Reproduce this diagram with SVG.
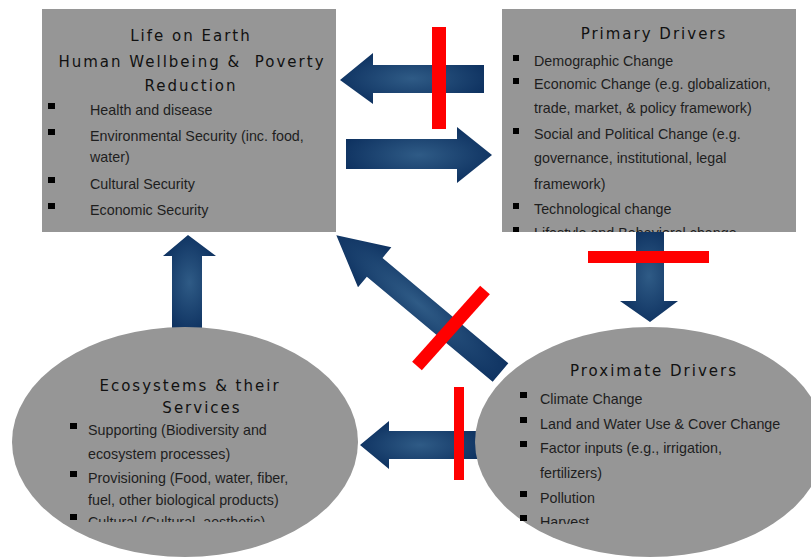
<svg xmlns="http://www.w3.org/2000/svg" width="811" height="557" viewBox="0 0 811 557">
<style>
.node{fill:#969696}
.ttl{font-family:"DejaVu Sans",Verdana,sans-serif;font-size:15px;letter-spacing:2px;fill:#111;text-anchor:middle;white-space:pre}
.txt{font-family:"Liberation Sans",Arial,sans-serif;font-size:14.3px;fill:#1e1e1e}
.bul{fill:#000}
.arrow{fill:url(#ag)}
.red{fill:#ff0000}
</style>
<defs>
<radialGradient id="ag" cx="0.5" cy="0.5" r="0.6">
<stop offset="0" stop-color="#2f5b86"/>
<stop offset="1" stop-color="#0b2e5d"/>
</radialGradient>
<clipPath id="c2"><rect x="502" y="9" width="294" height="223"/></clipPath>
<clipPath id="c3"><rect x="0" y="300" width="400" height="222"/></clipPath>
<clipPath id="c4"><rect x="470" y="300" width="341" height="224"/></clipPath>
</defs>
<g id="connectors">
<polygon class="arrow" points="340,80 373,53 373,65 484,65 484,93 373,93 373,104"/>
<polygon class="arrow" points="346,139 457,139 457,127 492,155 457,183 457,169 346,169"/>
<polygon class="arrow" points="636,230 664,230 664,301 678,301 650,322 620,301 636,301"/>
<polygon class="arrow" points="188,235 216,256 202,256 202,330 172,330 172,256 163,256"/>
<polygon class="arrow" points="360,445 389,421 389,431 480,431 480,459 389,459 389,469"/>
<polygon class="arrow" transform="translate(500.5,372.5) rotate(219.9)" points="0,-12.2 164,-12.2 164,-26 214,0 164,26 164,12.2 0,12.2"/>
</g>
<g id="life-on-earth">
<rect class="node" x="42" y="9" width="294" height="223"/>
<text class="ttl" x="191" y="41">Life on Earth</text>
<text class="ttl" x="192" y="67" xml:space="preserve">Human Wellbeing &amp;  Poverty</text>
<text class="ttl" x="191" y="91">Reduction</text>
<rect class="bul" x="48" y="103" width="7" height="6"/>
<rect class="bul" x="48" y="129" width="7" height="6"/>
<rect class="bul" x="48" y="177" width="7" height="6"/>
<rect class="bul" x="48" y="203" width="7" height="6"/>
<text class="txt" x="90" y="115">Health and disease</text>
<text class="txt" x="90" y="141">Environmental Security (inc. food,</text>
<text class="txt" x="90" y="162">water)</text>
<text class="txt" x="90" y="189">Cultural Security</text>
<text class="txt" x="90" y="215">Economic Security</text>
</g>
<g id="primary-drivers">
<rect class="node" x="502" y="9" width="294" height="223"/>
<g clip-path="url(#c2)">
<text class="ttl" x="654" y="39">Primary Drivers</text>
<rect class="bul" x="513" y="55" width="6" height="6"/>
<rect class="bul" x="513" y="78" width="6" height="6"/>
<rect class="bul" x="513" y="128" width="6" height="6"/>
<rect class="bul" x="513" y="203" width="6" height="6"/>
<rect class="bul" x="513" y="227" width="6" height="6"/>
<text class="txt" x="534" y="66">Demographic Change</text>
<text class="txt" x="534" y="89">Economic Change (e.g. globalization,</text>
<text class="txt" x="534" y="113">trade, market, &amp; policy framework)</text>
<text class="txt" x="534" y="139">Social and Political Change (e.g.</text>
<text class="txt" x="534" y="163">governance, institutional, legal</text>
<text class="txt" x="534" y="189">framework)</text>
<text class="txt" x="534" y="214">Technological change</text>
<text class="txt" x="534" y="238">Lifestyle and Behavioral change</text>
</g>
</g>
<g id="ecosystems">
<ellipse class="node" cx="185" cy="442" rx="173" ry="115"/>
<g clip-path="url(#c3)">
<text class="ttl" x="190" y="391">Ecosystems &amp; their</text>
<text class="ttl" x="202" y="413">Services</text>
<rect class="bul" x="70" y="423" width="7" height="6"/>
<rect class="bul" x="70" y="471" width="7" height="6"/>
<rect class="bul" x="70" y="514" width="7" height="6"/>
<text class="txt" x="88" y="435">Supporting (Biodiversity and</text>
<text class="txt" x="88" y="459">ecosystem processes)</text>
<text class="txt" x="88" y="483">Provisioning (Food, water, fiber,</text>
<text class="txt" x="88" y="505">fuel, other biological products)</text>
<text class="txt" x="88" y="527">Cultural (Cultural, aesthetic)</text>
</g>
</g>
<g id="proximate-drivers">
<ellipse class="node" cx="650" cy="442" rx="175" ry="115"/>
<g clip-path="url(#c4)">
<text class="ttl" x="654" y="376">Proximate Drivers</text>
<rect class="bul" x="520" y="392" width="7" height="6"/>
<rect class="bul" x="520" y="417" width="7" height="6"/>
<rect class="bul" x="520" y="441" width="7" height="6"/>
<rect class="bul" x="520" y="491" width="7" height="6"/>
<rect class="bul" x="520" y="515" width="7" height="6"/>
<text class="txt" x="540" y="404">Climate Change</text>
<text class="txt" x="540" y="429">Land and Water Use &amp; Cover Change</text>
<text class="txt" x="540" y="453">Factor inputs (e.g., irrigation,</text>
<text class="txt" x="540" y="478">fertilizers)</text>
<text class="txt" x="540" y="503">Pollution</text>
<text class="txt" x="540" y="527">Harvest</text>
</g>
</g>
<g id="blocks">
<rect class="red" x="432" y="27" width="14" height="102"/>
<rect class="red" x="588" y="251" width="121" height="12"/>
<rect class="red" x="454" y="387" width="10" height="93"/>
<line x1="417" y1="366" x2="485" y2="290" stroke="#ff0000" stroke-width="13"/>
</g>
</svg>
